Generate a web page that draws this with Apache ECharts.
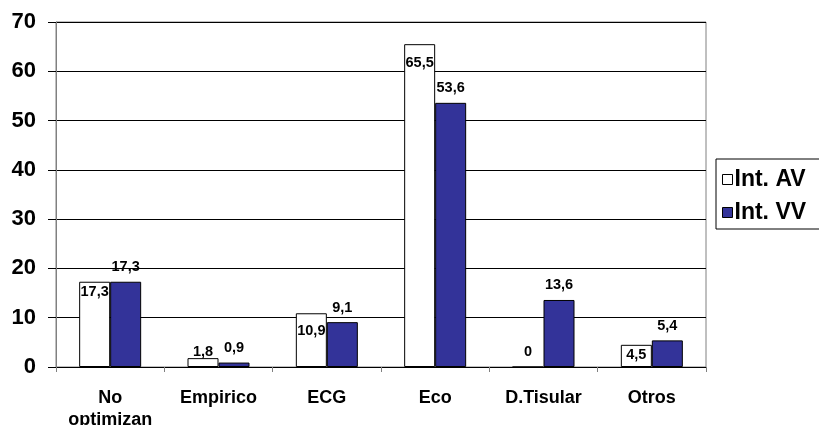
<!DOCTYPE html>
<html>
<head>
<meta charset="utf-8">
<script src="https://cdn.jsdelivr.net/npm/echarts@6/dist/echarts.min.js"></script>
<style>html,body{margin:0;padding:0;background:#fff}#c{width:819px;height:425px}</style>
</head>
<body>
<div id="c"></div>
<script>
var categories = ['No\noptimizan', 'Empirico', 'ECG', 'Eco', 'D.Tisular', 'Otros'];
var seriesNames = ['Int. AV', 'Int. VV'];
var intAV = [17.3, 1.8, 10.9, 65.5, 0, 4.5];
var intVV = [17.3, 0.9, 9.1, 53.6, 13.6, 5.4];
var yTicks = [0, 10, 20, 30, 40, 50, 60, 70];

// label vertical offsets for AV labels (style only)
var avLabelOffsets = [18, 1, 25, 26, -7, 18];

function fmt(v) { return String(v).replace('.', ','); }

var font = 'Liberation Sans, Arial, sans-serif';

var chart = echarts.init(document.getElementById('c'), null, {renderer: 'canvas'});
chart.setOption({
  animation: false,
  backgroundColor: '#fff',
  grid: {left: 56, right: 113, top: 22, bottom: 58, show: true, borderColor: '#808080', borderWidth: 1,
    outerBoundsMode: 'none', containLabel: false},
  legend: {
    orient: 'vertical',
    left: 716, top: 159,
    padding: [9, 20, 5, 6],
    borderColor: '#000', borderWidth: 1,
    itemWidth: 10, itemHeight: 10, itemGap: 10,
    icon: 'rect',
    textStyle: {fontFamily: font, fontWeight: 'bold', fontSize: 23, lineHeight: 22, color: '#000', padding: [0, 0, 0, -3]},
    data: [
      {name: seriesNames[0], itemStyle: {color: '#fff', borderColor: '#000', borderWidth: 1}},
      {name: seriesNames[1], itemStyle: {color: '#333399', borderColor: '#000', borderWidth: 1}}
    ]
  },
  xAxis: {
    type: 'category',
    data: categories,
    axisLine: {show: true, lineStyle: {color: '#000', width: 1}},
    axisTick: {show: true, length: 5, lineStyle: {color: '#808080'}},
    axisLabel: {fontFamily: font, fontWeight: 'bold', fontSize: 18, color: '#000', margin: 20, lineHeight: 22, interval: 0}
  },
  yAxis: {
    type: 'value',
    min: yTicks[0], max: yTicks[yTicks.length - 1], interval: 10,
    axisLine: {show: true, lineStyle: {color: '#808080', width: 1}},
    axisTick: {show: true, length: 8, lineStyle: {color: '#000'}},
    splitLine: {show: true, lineStyle: {color: '#000', width: 1}},
    axisLabel: {fontFamily: font, fontWeight: 'bold', fontSize: 22, color: '#000', margin: 20}
  },
  series: [
    {
      name: seriesNames[0], type: 'bar', barWidth: 31, barGap: 0,
      itemStyle: {color: '#fff', borderColor: '#000', borderWidth: 1},
      data: intAV.map(function (v, i) {
        return {value: v, label: {offset: [0, avLabelOffsets[i]]}};
      }),
      label: {show: true, position: 'top', distance: 0, fontFamily: font, fontWeight: 'bold', fontSize: 14.5, color: '#000',
        formatter: function (p) { return fmt(p.value); }}
    },
    {
      name: seriesNames[1], type: 'bar', barWidth: 31,
      itemStyle: {color: '#333399', borderColor: '#000', borderWidth: 1},
      data: intVV,
      label: {show: true, position: 'top', distance: 7, fontFamily: font, fontWeight: 'bold', fontSize: 14.5, color: '#000',
        formatter: function (p) { return fmt(p.value); }}
    }
  ]
});
</script>
</body>
</html>
